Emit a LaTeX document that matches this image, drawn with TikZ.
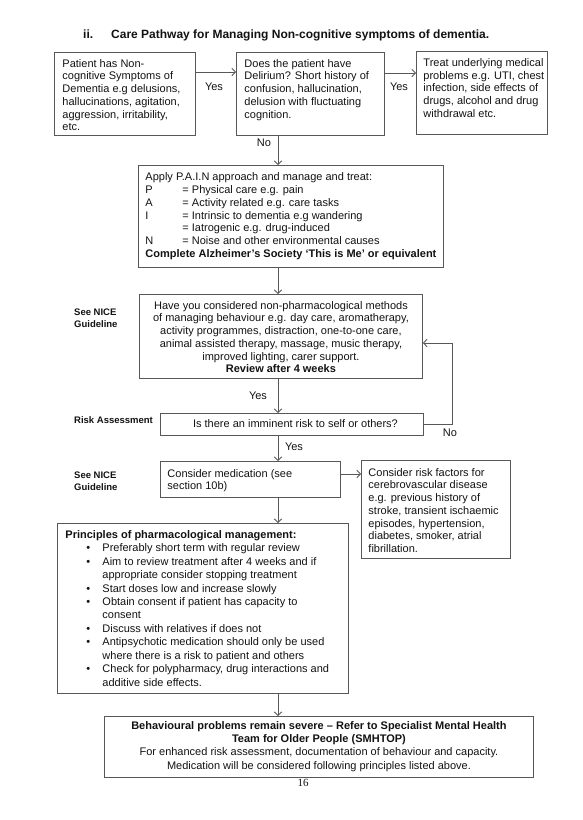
\documentclass[tikz,border=0pt]{standalone}
\usepackage{fontspec}
\setmainfont{Liberation Sans}
\newfontfamily\pagenumfont{Liberation Serif}
\usetikzlibrary{arrows.meta}
\definecolor{linecol}{RGB}{88,88,88}
\definecolor{txtcol}{RGB}{18,18,18}
% width, height, top skip, left skip, content
\newcommand\tbox[5]{\parbox[c][#2pt][t]{#1pt}{\vspace*{#3pt}\hspace*{#4pt}#5}}
\newcommand\cbox[4]{\parbox[c][#2pt][t]{#1pt}{\centering\vspace*{#3pt}#4\par}}
\begin{document}
\begin{tikzpicture}[x=1pt,y=-1pt,
  every node/.style={text=txtcol,font=\fontsize{11}{12.7}\selectfont},
  box/.style={draw=linecol,line width=0.9pt,inner sep=0pt,anchor=north west},
  lbl/.style={inner sep=0pt,anchor=center},
  side/.style={inner sep=0pt,anchor=base west,font=\fontsize{9.5}{11.5}\selectfont\bfseries},
  arr/.style={draw=linecol,line width=0.9pt,-{Straight Barb[length=3.5pt,width=7.5pt]}},
  ln/.style={draw=linecol,line width=0.9pt}]
\useasboundingbox (0,0) rectangle (582,820);
\coordinate (spine) at (278,0);

% title
\node[inner sep=0pt,anchor=base west,font=\fontsize{12}{14}\selectfont\bfseries] (tnum) at (83,38.5) {ii.};
\node[inner sep=0pt,anchor=base west,font=\fontsize{12}{14}\selectfont\bfseries] (title) at (111,38.5) {Care Pathway for Managing Non-cognitive symptoms of dementia.};

% top row
\node[box] (b1) at (54,52) {\tbox{141}{83}{5.9}{8}{\begin{tabular}[t]{@{}l@{}}Patient has Non-\\cognitive Symptoms of\\Dementia e.g delusions,\\hallucinations, agitation,\\aggression, irritability,\\etc.\end{tabular}}};
\node[box] (b2) at (236,52) {\tbox{148}{83}{5.9}{8}{\begin{tabular}[t]{@{}l@{}}Does the patient have\\Delirium? Short history of\\confusion, hallucination,\\delusion with fluctuating\\cognition.\end{tabular}}};
\node[box] (b3) at (416,51) {\tbox{131}{83}{6.1}{7}{\begin{tabular}[t]{@{}l@{}}Treat underlying medical\\problems e.g. UTI, chest\\infection, side effects of\\drugs, alcohol and drug\\withdrawal etc.\end{tabular}}};

% PAIN
\node[box] (pain) at (138,165) {\tbox{305}{102}{6.6}{7}{\begin{tabular}[t]{@{}l@{}}Apply P.A.I.N approach and manage and treat:\\
\makebox[37pt][l]{P}= Physical care e.g. pain\\
\makebox[37pt][l]{A}= Activity related e.g. care tasks\\
\makebox[37pt][l]{I}= Intrinsic to dementia e.g wandering\\
\makebox[37pt][l]{}= Iatrogenic e.g. drug-induced\\
\makebox[37pt][l]{N}= Noise and other environmental causes\\
\textbf{Complete Alzheimer’s Society ‘This is Me’ or equivalent}\end{tabular}}};

% NICE
\node[box] (nice) at (139,294) {\cbox{283}{84}{5.9}{\begin{tabular}[t]{@{}c@{}}Have you considered non-pharmacological methods\\of managing behaviour e.g. day care, aromatherapy,\\activity programmes, distraction, one-to-one care,\\animal assisted therapy, massage, music therapy,\\improved lighting, carer support.\\\textbf{Review after 4 weeks}\end{tabular}}};
\node[side] (nice1) at (74,315.5) {\begin{tabular}[t]{@{}l@{}}See NICE\\Guideline\end{tabular}};

% risk
\node[box] (risk) at (160,413) {\cbox{263}{22}{5.9}{\hspace*{7pt}Is there an imminent risk to self or others?}};
\node[side] (riskl) at (74,423.5) {Risk Assessment};

% medication
\node[box] (med) at (160,461) {\tbox{180}{36}{6.9}{7}{\begin{tabular}[t]{@{}l@{}}Consider medication (see\\section 10b)\end{tabular}}};
\node[side] (nice2) at (74,478.5) {\begin{tabular}[t]{@{}l@{}}See NICE\\Guideline\end{tabular}};
\node[box] (rf) at (361,460) {\tbox{149}{98}{6.9}{7}{\begin{tabular}[t]{@{}l@{}}Consider risk factors for\\cerebrovascular disease\\e.g. previous history of\\stroke, transient ischaemic\\episodes, hypertension,\\diabetes, smoker, atrial\\fibrillation.\end{tabular}}};

% principles
\node[box,font=\fontsize{11}{13.45}\selectfont] (prin) at (57,523) {\tbox{291}{170}{5.4}{8}{\begin{tabular}[t]{@{}l@{}}\textbf{Principles of pharmacological management:}\\
\hspace*{21pt}\makebox[16pt][l]{\textbullet}Preferably short term with regular review\\
\hspace*{21pt}\makebox[16pt][l]{\textbullet}Aim to review treatment after 4 weeks and if\\
\hspace*{37pt}appropriate consider stopping treatment\\
\hspace*{21pt}\makebox[16pt][l]{\textbullet}Start doses low and increase slowly\\
\hspace*{21pt}\makebox[16pt][l]{\textbullet}Obtain consent if patient has capacity to\\
\hspace*{37pt}consent\\
\hspace*{21pt}\makebox[16pt][l]{\textbullet}Discuss with relatives if does not\\
\hspace*{21pt}\makebox[16pt][l]{\textbullet}Antipsychotic medication should only be used\\
\hspace*{37pt}where there is a risk to patient and others\\
\hspace*{21pt}\makebox[16pt][l]{\textbullet}Check for polypharmacy, drug interactions and\\
\hspace*{37pt}additive side effects.\end{tabular}}};

% bottom
\node[box,font=\fontsize{11}{13.3}\selectfont] (bot) at (104,716) {\cbox{429}{61}{3.5}{\begin{tabular}[t]{@{}c@{}}\textbf{Behavioural problems remain severe – Refer to Specialist Mental Health}\\\textbf{Team for Older People (SMHTOP)}\\For enhanced risk assessment, documentation of behaviour and capacity.\\Medication will be considered following principles listed above.\end{tabular}}};
\node[inner sep=0pt,font=\pagenumfont\fontsize{11}{13}\selectfont] (pnum) at (303,783) {16};

% connectors
\draw[arr] ([yshift=-20pt]b1.north east) -- ([yshift=-20pt]b1.north east -| b2.west);
\node[lbl] (yes1) at (214,87) {Yes};
\draw[arr] ([yshift=-21pt]b2.north east) -- ([yshift=-21pt]b2.north east -| b3.west);
\node[lbl] (yes2) at (399,87) {Yes};
\draw[arr] (b2.south -| spine) -- (pain.north -| spine);
\node[lbl] (no1) at (264,143) {No};
\draw[arr] (pain.south -| spine) -- (nice.north -| spine);
\draw[arr] (nice.south -| spine) -- (risk.north -| spine);
\node[lbl] (yes3) at (258,396) {Yes};
\draw[arr] (risk.east) -- ++(29,0) |- ([yshift=-49pt]nice.north east);
\node[lbl] (no2) at (450,433) {No};
\draw[arr] (risk.south -| spine) -- (med.north -| spine);
\node[lbl] (yes4) at (294,447) {Yes};
\draw[arr] ([yshift=-13pt]med.north east) -- ([yshift=-13pt]med.north east -| rf.west);
\draw[arr] (med.south -| spine) -- (prin.north -| spine);
\draw[arr] (prin.south -| spine) -- (bot.north -| spine);
\end{tikzpicture}
\end{document}
